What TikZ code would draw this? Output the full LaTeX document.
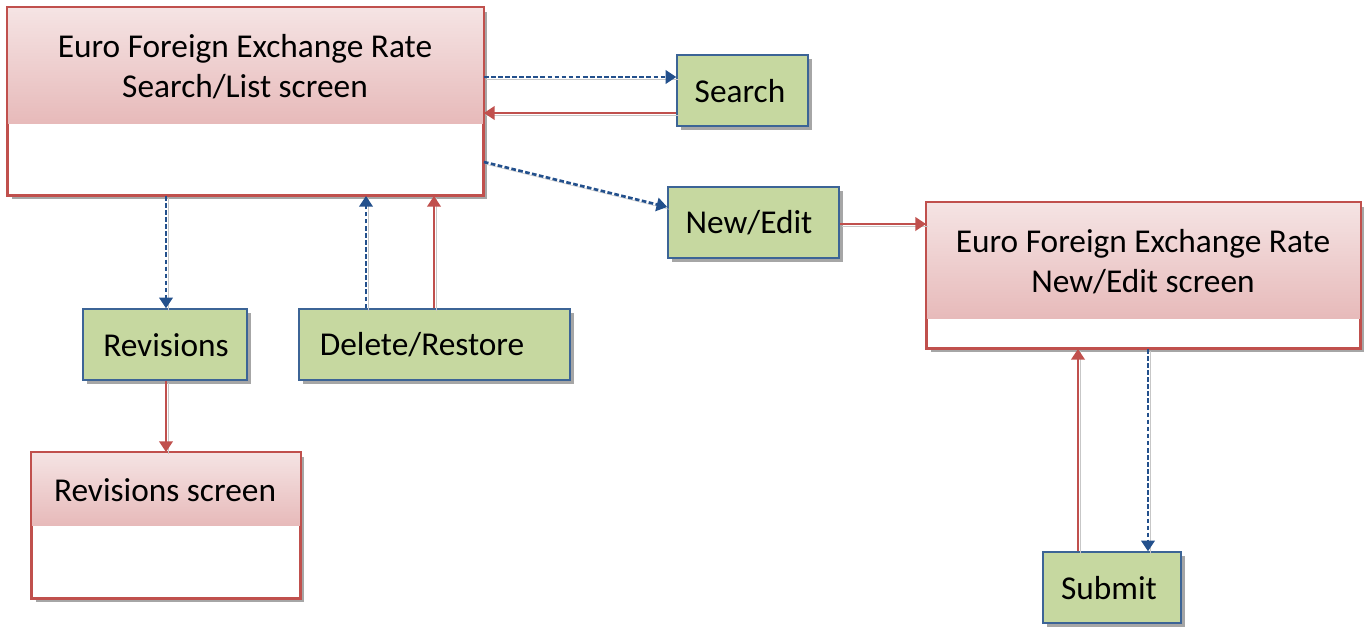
\documentclass[tikz,border=0pt]{standalone}
\usepackage{fontspec}
\setmainfont{Carlito}
\usetikzlibrary{shadows,fit,arrows.meta,calc}
\definecolor{redline}{RGB}{192,80,77}
\definecolor{pinktop}{RGB}{245,228,228}
\definecolor{pinkbot}{RGB}{231,186,186}
\definecolor{greenfill}{RGB}{198,216,160}
\definecolor{greenborder}{RGB}{60,100,150}
\definecolor{blueline}{RGB}{35,80,140}
\tikzset{
 boxshadow/.style={drop shadow={shadow xshift=3pt,shadow yshift=-3pt,fill=black,opacity=0.35}},
 screenbox/.style={draw=redline, line width=1.4pt, fill=white, inner sep=0pt, boxshadow},
 actbox/.style={draw=greenborder, line width=1.1pt, fill=greenfill, inner sep=0pt, boxshadow},
 lbl/.style={font=\fontsize{25}{30}\selectfont, align=center, inner sep=0pt},
 tip/.style={-{Triangle[width=10pt,length=8pt]}},
 arrshadow/.style={preaction={draw=black!22, -, transform canvas={xshift=1.8pt,yshift=-1.8pt}}},
 redarrow/.style={draw=redline, line width=2pt, tip, arrshadow},
 bluearrow/.style={draw=blueline, line width=2pt, dash pattern=on 3.5pt off 1.8pt, tip, arrshadow},
}
\begin{document}
\begin{tikzpicture}[x=0.75pt,y=-0.75pt]
\useasboundingbox (0,0) rectangle (1368,628);
% screens
\node[screenbox, fit={(8,8)(483,195)}] (A) {};
\shade[top color=pinktop, bottom color=pinkbot] (A.north west) rectangle (A.east |- 0,123);
\draw[redline, line width=1.4pt] (A.north west) rectangle (A.south east);
\node[lbl] (At) at (245,67) {Euro Foreign Exchange Rate\\Search/List screen};

\node[screenbox, fit={(927,203)(1360,348)}] (B) {};
\shade[top color=pinktop, bottom color=pinkbot] (B.north west) rectangle (B.east |- 0,318);
\draw[redline, line width=1.4pt] (B.north west) rectangle (B.south east);
\node[lbl] (Bt) at (1143,262) {Euro Foreign Exchange Rate\\New/Edit screen};

\node[screenbox, fit={(32,453)(300,598)}] (C) {};
\shade[top color=pinktop, bottom color=pinkbot] (C.north west) rectangle (C.east |- 0,525);
\draw[redline, line width=1.4pt] (C.north west) rectangle (C.south east);
\node[lbl] (Ct) at (165,490) {Revisions screen};

% actions
\node[actbox, fit={(677,55)(808,126)}] (S) {};
\node[lbl] (St) at (740,91) {Search};
\node[actbox, fit={(668,187)(839,258)}] (N) {};
\node[lbl] (Nt) at (749,223) {New/Edit};
\node[actbox, fit={(83,309)(247,380)}] (R) {};
\node[lbl] (Rt) at (166,345) {Revisions};
\node[actbox, fit={(299,309)(570,380)}] (D) {};
\node[lbl] (Dt) at (422,345) {Delete/Restore};
\node[actbox, fit={(1043,552)(1181,623)}] (U) {};
\node[lbl] (Ut) at (1109,588) {Submit};

% connectors
\draw[bluearrow] (A.east |- 0,77) -- (S.west |- 0,77);
\draw[redarrow] (S.west |- 0,113) -- (A.east |- 0,113);
\draw[bluearrow] (A.east |- 0,162) -- (N.west |- 0,207);
\draw[redarrow] (N.east |- 0,224) -- (B.west |- 0,224);
\draw[bluearrow] (A.south -| 166,0) -- (R.north -| 166,0);
\draw[bluearrow] (D.north -| 366,0) -- (A.south -| 366,0);
\draw[redarrow] (D.north -| 434,0) -- (A.south -| 434,0);
\draw[redarrow] (R.south -| 166,0) -- (C.north -| 166,0);
\draw[redarrow] (U.north -| 1078,0) -- (B.south -| 1078,0);
\draw[bluearrow] (B.south -| 1148,0) -- (U.north -| 1148,0);
\end{tikzpicture}
\end{document}
